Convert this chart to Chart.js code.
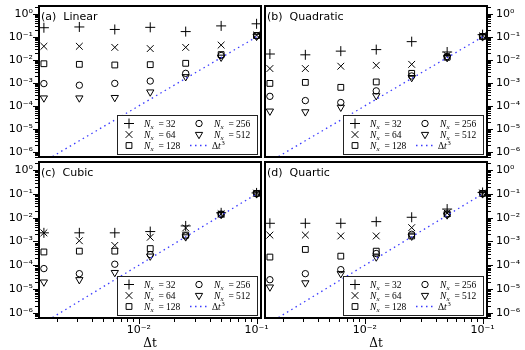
<!DOCTYPE html>
<html><head><meta charset="utf-8">
<script src="https://cdn.jsdelivr.net/npm/chart.js@4.4.1/dist/chart.umd.min.js"></script>
<style>
html,body{margin:0;padding:0;background:#fff;}
#wrap{position:relative;width:525px;height:350px;overflow:hidden;background:#fff;}
#wrap canvas{position:absolute;left:0;top:0;}
</style></head><body>
<div id="wrap">
<canvas id="pa" width="525" height="350"></canvas>
<canvas id="pb" width="525" height="350"></canvas>
<canvas id="pc" width="525" height="350"></canvas>
<canvas id="pd" width="525" height="350"></canvas>
</div>
<script>
// ---------------- data ----------------
const timeSteps = [0.0015625, 0.003125, 0.00625, 0.0125, 0.025, 0.05, 0.1];
const refCubic  = [3.81e-7, 3.05e-6, 2.44e-5, 1.95e-4, 1.5625e-3, 0.0125, 0.1]; // Δt^3 guide line
const gridSizes = ['32', '64', '128', '256', '512'];

const linear32  = [0.25, 0.27, 0.21, 0.26, 0.17, 0.30, 0.37];
const linear64  = [0.039, 0.039, 0.035, 0.031, 0.035, 0.044, 0.12];
const linear128 = [0.0068, 0.0064, 0.0060, 0.0062, 0.0071, 0.017, 0.115];
const linear256 = [9.3e-4, 7.9e-4, 9.5e-4, 1.2e-3, 2.6e-3, 0.0155, 0.11];
const linear512 = [2.2e-4, 2.2e-4, 2.3e-4, 4.0e-4, 1.85e-3, 0.013, 0.105];

const quad32  = [0.018, 0.0166, 0.024, 0.028, 0.062, 0.022, 0.125];
const quad64  = [0.0042, 0.0042, 0.0053, 0.0058, 0.0064, 0.0155, 0.11];
const quad128 = [9.5e-4, 1.05e-3, 6.4e-4, 1.1e-3, 2.6e-3, 0.013, 0.105];
const quad256 = [2.6e-4, 1.7e-4, 1.4e-4, 4.5e-4, 2.0e-3, 0.014, 0.105];
const quad512 = [5.9e-5, 5.5e-5, 8.7e-5, 2.75e-4, 1.7e-3, 0.0125, 0.1];

const cubic32  = [2.3e-3, 2.3e-3, 2.3e-3, 2.6e-3, 4.5e-3, 0.016, 0.11];
const cubic64  = [2.3e-3, 1.07e-3, 6.8e-4, 1.5e-3, 3.7e-3, 0.0145, 0.108];
const cubic128 = [3.6e-4, 3.9e-4, 3.9e-4, 5.0e-4, 1.85e-3, 0.014, 0.105];
const cubic256 = [7.2e-5, 4.4e-5, 1.1e-4, 2.8e-4, 1.7e-3, 0.014, 0.105];
const cubic512 = [1.95e-5, 2.45e-5, 4.9e-5, 2.4e-4, 1.55e-3, 0.0135, 0.1];

const quart32  = [5.8e-3, 5.8e-3, 5.8e-3, 6.8e-3, 0.0104, 0.023, 0.115];
const quart64  = [1.85e-3, 1.85e-3, 1.7e-3, 1.7e-3, 3.8e-3, 0.0155, 0.11];
const quart128 = [2.2e-4, 4.6e-4, 2.4e-4, 3.9e-4, 1.7e-3, 0.0145, 0.105];
const quart256 = [2.45e-5, 4.4e-5, 6.5e-5, 3.1e-4, 2.0e-3, 0.014, 0.105];
const quart512 = [1.2e-5, 1.8e-5, 4.4e-5, 2.2e-4, 1.66e-3, 0.013, 0.1];

const yDecades = [1e-6, 1e-5, 1e-4, 1e-3, 1e-2, 1e-1, 1];
const yDecadeLabels = ['10⁻⁶', '10⁻⁵', '10⁻⁴', '10⁻³', '10⁻²', '10⁻¹', '10⁰'];
const xDecades = [1e-3, 1e-2, 1e-1];
const xDecadeLabels = ['10⁻³', '10⁻²', '10⁻¹'];
const minorSteps = [2, 3, 4, 5, 6, 7, 8, 9];

const panelTitles = ['(a)  Linear', '(b)  Quadratic', '(c)  Cubic', '(d)  Quartic'];

// ---------------- styling ----------------
const Y_MIN = 6e-7, Y_MAX = 2.2, X_MIN = 0.00142, X_MAX = 0.109;
const markerStyles = [
  {pointStyle: 'cross', radius: 5, rotation: 0},
  {pointStyle: 'crossRot', radius: 4.8, rotation: 0},
  {pointStyle: 'rect', radius: 4.1, rotation: 0},
  {pointStyle: 'circle', radius: 3.2, rotation: 0},
  {pointStyle: 'triangle', radius: 4.2, rotation: 180}
];
const LINE_COLOR = '#3a3aff';

function buildTicks(decades, min, max) {
  const out = [];
  decades.forEach(d => {
    [1].concat(minorSteps).forEach(m => {
      const v = d * m;
      if (v >= min * 0.9999 && v <= max * 1.0001) out.push(v);
    });
  });
  return out.sort((a, b) => a - b);
}
const yTickValues = buildTicks([1e-7].concat(yDecades), Y_MIN, Y_MAX);
const xTickValues = buildTicks(xDecades, X_MIN, X_MAX);

function decadeLabel(v, decades, labels) {
  for (let i = 0; i < decades.length; i++) {
    if (Math.abs(v - decades[i]) / decades[i] < 1e-6) return labels[i];
  }
  return '';
}
function isDecade(v) {
  const l = Math.log10(v);
  return Math.abs(l - Math.round(l)) < 1e-6;
}

function drawNx(ctx, x, y, num) {
  ctx.fillStyle = '#000';
  ctx.textAlign = 'left';
  ctx.textBaseline = 'alphabetic';
  ctx.font = 'italic 9.5px "Liberation Serif"';
  ctx.fillText('N', x, y + 3);
  ctx.font = 'italic 7px "Liberation Serif"';
  ctx.fillText('x', x + 6.5, y + 5);
  ctx.font = '9.5px "Liberation Serif"';
  ctx.fillText('=', x + 14.5, y + 3);
  ctx.fillText(num, x + 22, y + 3);
}

const decor = {
  id: 'decor',
  afterDatasetsDraw(chart, args, opts) {
    const ctx = chart.ctx, a = chart.chartArea;
    ctx.save();
    // legend
    const bw = 140, bh = 39;
    const bx = Math.round(a.right - 4 - bw), by = Math.round(a.bottom - 3 - bh);
    ctx.fillStyle = '#fff';
    ctx.fillRect(bx, by, bw, bh);
    ctx.strokeStyle = '#222';
    ctx.lineWidth = 1;
    ctx.strokeRect(bx + 0.5, by + 0.5, bw, bh);
    const rows = [by + 8.5, by + 19.5, by + 30.5];
    chart.data.datasets.forEach((ds, i) => {
      const col = i < 3 ? 0 : 1, row = i % 3;
      const mx = bx + (col ? 82 : 12), my = rows[row];
      if (ds.showLine) {
        ctx.save();
        ctx.strokeStyle = LINE_COLOR;
        ctx.lineWidth = 1.3;
        ctx.setLineDash([1.5, 3.5]);
        ctx.beginPath();
        ctx.moveTo(mx - 9, my); ctx.lineTo(mx + 9, my);
        ctx.stroke();
        ctx.restore();
        ctx.fillStyle = '#000';
        ctx.font = '9.5px "Liberation Serif"';
        ctx.textBaseline = 'alphabetic';
        ctx.fillText('Δ', bx + 95, my + 3);
        ctx.font = 'italic 9.5px "Liberation Serif"';
        ctx.fillText('t', bx + 101, my + 3);
        ctx.font = '6.5px "Liberation Serif"';
        ctx.fillText('3', bx + 104.5, my - 1);
      } else {
        ctx.strokeStyle = '#000';
        ctx.fillStyle = 'rgba(0,0,0,0)';
        ctx.lineWidth = 1;
        Chart.helpers.drawPoint(ctx, {pointStyle: ds.pointStyle, rotation: ds.pointRotation, radius: ds.pointRadius, borderWidth: 1}, mx, my);
        drawNx(ctx, bx + (col ? 97 : 27), my, gridSizes[i]);
      }
    });
    // ticks
    ctx.strokeStyle = '#000';
    ctx.lineWidth = 1;
    const ys = chart.scales.y;
    ys.ticks.forEach(t => {
      const p = ys.getPixelForValue(t.value);
      if (p < a.top - 0.5 || p > a.bottom + 0.5) return;
      const len = isDecade(t.value) ? 5 : 3;
      const yy = Math.round(p) + 0.5;
      ctx.beginPath();
      if (opts.ySide === 'left') { ctx.moveTo(a.left, yy); ctx.lineTo(a.left - len - 1, yy); }
      else { ctx.moveTo(a.right, yy); ctx.lineTo(a.right + len + 1, yy); }
      ctx.stroke();
    });
    if (opts.xAxis) {
      const xs = chart.scales.x;
      xs.ticks.forEach(t => {
        const p = xs.getPixelForValue(t.value);
        if (p < a.left - 0.5 || p > a.right + 0.5) return;
        const len = isDecade(t.value) ? 5 : 3;
        const xx = Math.round(p) + 0.5;
        ctx.beginPath();
        ctx.moveTo(xx, a.bottom); ctx.lineTo(xx, a.bottom + len + 1);
        ctx.stroke();
      });
    }
    // frame
    ctx.strokeStyle = '#000';
    ctx.lineWidth = 2;
    ctx.strokeRect(a.left, a.top, a.right - a.left, a.bottom - a.top);
    // panel title
    ctx.fillStyle = '#000';
    ctx.font = '11px "DejaVu Sans"';
    ctx.textAlign = 'left';
    ctx.textBaseline = 'alphabetic';
    ctx.fillText(opts.title, a.left + 2, a.top + 13.5);
    ctx.restore();
  }
};

function makeDatasets(series) {
  const ds = series.map((vals, i) => ({
    label: 'N_x = ' + gridSizes[i],
    data: timeSteps.map((t, k) => ({x: t, y: vals[k]})),
    showLine: false,
    pointStyle: markerStyles[i].pointStyle,
    pointRadius: markerStyles[i].radius,
    pointRotation: markerStyles[i].rotation,
    pointBorderWidth: 1,
    pointBorderColor: '#000',
    pointBackgroundColor: 'rgba(0,0,0,0)',
    order: 1
  }));
  ds.push({
    label: 'Δt³',
    data: timeSteps.map((t, k) => ({x: t, y: refCubic[k]})),
    showLine: true,
    borderColor: LINE_COLOR,
    borderWidth: 1.3,
    borderDash: [1.5, 3.5],
    pointRadius: 0,
    fill: false,
    order: 0
  });
  return ds;
}

function makeChart(id, series, title, pad, ySide, xAxis) {
  const yWidth = ySide === 'left' ? 39 : 38;
  new Chart(document.getElementById(id), {
    type: 'scatter',
    data: {datasets: makeDatasets(series)},
    plugins: [decor],
    options: {
      responsive: false,
      animation: false,
      devicePixelRatio: 1,
      events: [],
      layout: {padding: pad},
      plugins: {
        legend: {display: false},
        tooltip: {enabled: false},
        decor: {title: title, ySide: ySide, xAxis: xAxis}
      },
      scales: {
        x: {
          type: 'logarithmic',
          display: xAxis,
          min: X_MIN, max: X_MAX,
          afterBuildTicks: (s) => { s.ticks = xTickValues.map(v => ({value: v, major: isDecade(v)})); },
          afterFit: (s) => { s.height = xAxis ? 32 : 0; s.paddingLeft = 0; s.paddingRight = 0; s.paddingTop = 0; s.paddingBottom = 0; },
          grid: {display: true, drawOnChartArea: false, drawTicks: true, tickLength: 5, color: 'rgba(0,0,0,0)'},
          border: {display: false},
          ticks: {
            autoSkip: false, maxRotation: 0, minRotation: 0, padding: 1,
            color: '#000', font: {family: 'DejaVu Sans', size: 11},
            callback: (v) => decadeLabel(v, xDecades, xDecadeLabels)
          },
          title: {display: true, text: 'Δt', color: '#000', font: {family: 'DejaVu Serif', size: 12, lineHeight: 1}, padding: {top: 0, bottom: 0}}
        },
        y: {
          type: 'logarithmic',
          position: ySide,
          min: Y_MIN, max: Y_MAX,
          afterBuildTicks: (s) => { s.ticks = yTickValues.map(v => ({value: v, major: isDecade(v)})); },
          afterFit: (s) => { s.width = yWidth; s.paddingLeft = 0; s.paddingRight = 0; s.paddingTop = 0; s.paddingBottom = 0; },
          grid: {display: true, drawOnChartArea: false, drawTicks: true, tickLength: 5, color: 'rgba(0,0,0,0)'},
          border: {display: false},
          ticks: {
            autoSkip: false, padding: ySide === 'left' ? 1 : 4,
            color: '#000', font: {family: 'DejaVu Sans', size: 11},
            callback: (v) => decadeLabel(v, yDecades, yDecadeLabels)
          }
        }
      }
    }
  });
}

makeChart('pa', [linear32, linear64, linear128, linear256, linear512], panelTitles[0], {left: 0, top: 3, right: 264, bottom: 193}, 'left', false);
makeChart('pb', [quad32, quad64, quad128, quad256, quad512], panelTitles[1], {left: 265, top: 3, right: 0, bottom: 193}, 'right', false);
makeChart('pc', [cubic32, cubic64, cubic128, cubic256, cubic512], panelTitles[2], {left: 0, top: 162, right: 264, bottom: 0}, 'left', true);
makeChart('pd', [quart32, quart64, quart128, quart256, quart512], panelTitles[3], {left: 265, top: 162, right: 0, bottom: 0}, 'right', true);
</script>
</body></html>
